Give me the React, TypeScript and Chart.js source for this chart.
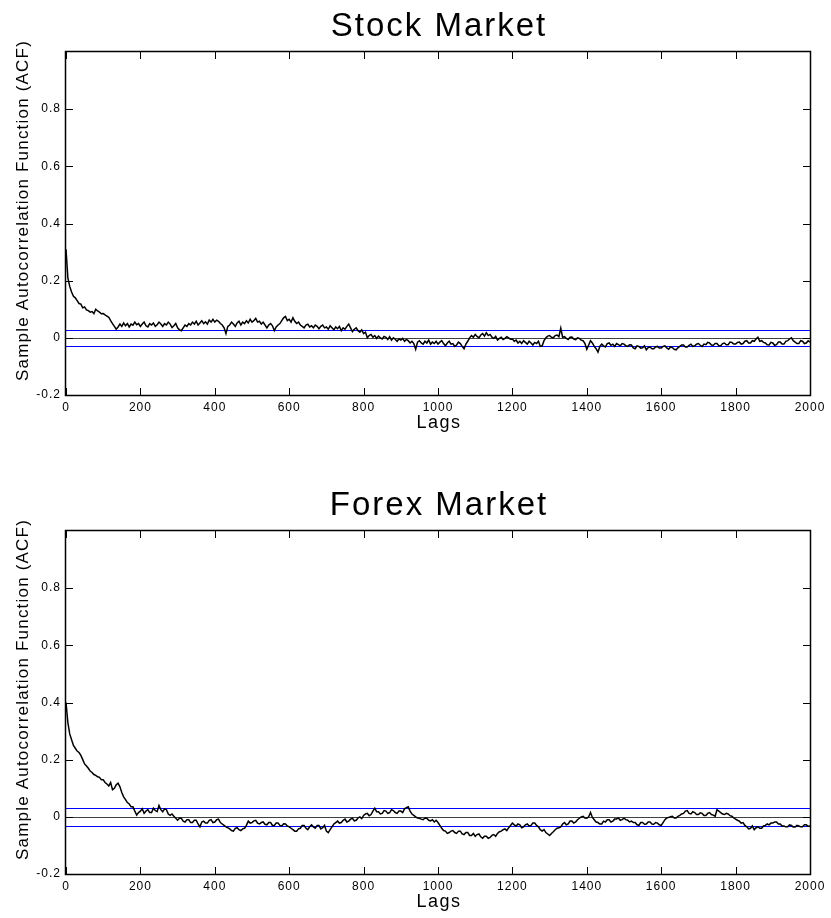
import React, { useEffect, useRef } from 'react';
import { Chart, registerables } from 'chart.js';

Chart.register(...registerables);

// Lags are sampled every LAG_STEP, from 0 to LAG_MAX
const LAG_STEP = 5;
const LAG_MAX = 2000;
const X_TICK_STEP = 200;
const Y_MIN = -0.2;
const Y_MAX = 1;
const Y_TICK_STEP = 0.2;

const STOCK_TITLE = 'Stock Market';
const FOREX_TITLE = 'Forex Market';
const Y_LABEL = 'Sample Autocorrelation Function (ACF)';
const X_LABEL = 'Lags';

const STOCK_BOUND = 0.027;
const FOREX_BOUND = 0.032;

const STOCK_ACF = [
  0.31, 0.21, 0.18, 0.16, 0.145, 0.14, 0.13, 0.12, 0.118, 0.105, 0.108, 0.098, 0.095, 0.09, 0.092, 0.085, 0.1, 0.094, 0.09, 0.084,
  0.085, 0.08, 0.076, 0.072, 0.06, 0.05, 0.04, 0.03, 0.038, 0.048, 0.04, 0.052, 0.042, 0.05, 0.038, 0.048, 0.044, 0.055, 0.046, 0.05,
  0.04, 0.048, 0.055, 0.042, 0.038, 0.05, 0.045, 0.052, 0.04, 0.046, 0.055, 0.048, 0.04, 0.05, 0.045, 0.055, 0.048, 0.036, 0.042, 0.05,
  0.035, 0.028, 0.025, 0.035, 0.045, 0.04, 0.05, 0.045, 0.055, 0.048, 0.058, 0.045, 0.052, 0.06, 0.05, 0.056, 0.048, 0.062, 0.055, 0.065,
  0.055, 0.062, 0.058, 0.05, 0.045, 0.035, 0.015, 0.04, 0.045, 0.055, 0.048, 0.04, 0.052, 0.058, 0.045, 0.055, 0.05, 0.06, 0.052, 0.065,
  0.055, 0.06, 0.068, 0.055, 0.058, 0.048, 0.055, 0.045, 0.035, 0.045, 0.05, 0.042, 0.025, 0.038, 0.045, 0.05, 0.06, 0.07, 0.075, 0.06,
  0.065, 0.055, 0.07, 0.058, 0.05, 0.055, 0.045, 0.04, 0.035, 0.045, 0.048, 0.038, 0.042, 0.035, 0.045, 0.04, 0.032, 0.04, 0.045, 0.035,
  0.038, 0.03, 0.042, 0.035, 0.028, 0.038, 0.032, 0.04, 0.025, 0.035, 0.03, 0.04, 0.048, 0.035, 0.022, 0.03, 0.035, 0.025, 0.02, 0.028,
  0.015, 0.02, 0.0, 0.008, 0.012, 0.002, 0.008, -0.002, 0.006, 0.0, -0.004, 0.005, 0.002, -0.006, 0.004, -0.008, 0.0, -0.005, -0.012, -0.004,
  -0.008, -0.002, -0.012, -0.006, -0.01, -0.018, -0.012, -0.02, -0.04, -0.015, -0.01, -0.018, -0.022, -0.012, -0.018, -0.008, -0.022, -0.015, -0.02, -0.012,
  -0.022, -0.015, -0.01, -0.02, -0.028, -0.018, -0.012, -0.022, -0.02, -0.03, -0.025, -0.015, -0.02, -0.03, -0.038, -0.022, -0.012, 0.0, 0.008, 0.002,
  0.012, 0.005, 0.0, 0.01, 0.015, 0.006, 0.018, 0.008, 0.012, 0.002, -0.002, 0.005, -0.008, -0.002, 0.002, -0.006, -0.002, 0.004, 0.0, -0.005,
  -0.004, -0.012, -0.008, -0.018, -0.012, -0.02, -0.01, -0.016, -0.022, -0.012, -0.018, -0.025, -0.016, -0.02, -0.012, -0.03, -0.028, -0.01, 0.0, 0.006,
  0.008, 0.002, 0.0, 0.008, 0.01, 0.004, 0.034, 0.002, 0.004, -0.002, -0.006, 0.002, 0.003, -0.004, -0.006, 0.0, -0.002, -0.008, -0.01, -0.02,
  -0.04, -0.025, -0.01, -0.018, -0.03, -0.038, -0.05, -0.03, -0.022, -0.028, -0.032, -0.02, -0.018, -0.026, -0.022, -0.03, -0.02, -0.024, -0.028, -0.02,
  -0.022, -0.028, -0.03, -0.024, -0.025, -0.035, -0.038, -0.028, -0.03, -0.036, -0.035, -0.028, -0.042, -0.034, -0.032, -0.038, -0.038, -0.032, -0.03, -0.036,
  -0.036, -0.03, -0.028, -0.035, -0.04, -0.032, -0.034, -0.04, -0.042, -0.035, -0.03, -0.025, -0.025, -0.032, -0.032, -0.026, -0.022, -0.03, -0.028, -0.022,
  -0.02, -0.026, -0.03, -0.022, -0.024, -0.016, -0.018, -0.025, -0.026, -0.02, -0.02, -0.028, -0.028, -0.02, -0.018, -0.024, -0.024, -0.015, -0.016, -0.022,
  -0.022, -0.016, -0.015, -0.022, -0.02, -0.012, -0.01, -0.018, -0.018, -0.01, -0.012, -0.004, 0.002, -0.012, -0.01, -0.016, -0.018, -0.024, -0.025, -0.016,
  -0.018, -0.026, -0.024, -0.015, -0.015, -0.022, -0.022, -0.012, -0.01, -0.004, 0.0, -0.01, -0.015, -0.02, -0.02, -0.01, -0.012, -0.02, -0.018, -0.01,
  -0.015,
];

const FOREX_ACF = [
  0.40, 0.33, 0.29, 0.27, 0.25, 0.24, 0.23, 0.225, 0.215, 0.2, 0.185, 0.178, 0.17, 0.16, 0.155, 0.148, 0.145, 0.14, 0.138, 0.13,
  0.13, 0.12, 0.115, 0.108, 0.12, 0.095, 0.1, 0.112, 0.118, 0.105, 0.085, 0.07, 0.06, 0.05, 0.045, 0.035, 0.035, 0.02, 0.006, 0.015,
  0.02, 0.028, 0.012, 0.02, 0.025, 0.015, 0.015, 0.03, 0.022, 0.018, 0.04, 0.025, 0.018, 0.028, 0.025, 0.01, 0.005, 0.01, 0.002, -0.005,
  -0.012, -0.005, -0.005, -0.015, -0.018, -0.01, -0.01, -0.02, -0.02, -0.012, -0.012, -0.025, -0.035, -0.018, -0.015, -0.022, -0.022, -0.012, -0.01, -0.02,
  -0.018, -0.01, -0.008, -0.02, -0.025, -0.03, -0.035, -0.038, -0.042, -0.048, -0.05, -0.04, -0.038, -0.045, -0.048, -0.042, -0.04, -0.03, -0.015, -0.022,
  -0.02, -0.014, -0.012, -0.022, -0.025, -0.02, -0.018, -0.026, -0.028, -0.02, -0.02, -0.03, -0.03, -0.022, -0.022, -0.03, -0.032, -0.024, -0.025, -0.032,
  -0.035, -0.04, -0.045, -0.05, -0.05, -0.042, -0.04, -0.03, -0.03, -0.04, -0.045, -0.035, -0.028, -0.035, -0.04, -0.03, -0.03, -0.042, -0.038, -0.03,
  -0.05, -0.055, -0.045, -0.035, -0.025, -0.02, -0.015, -0.022, -0.02, -0.012, -0.008, -0.018, -0.015, -0.008, -0.005, -0.014, -0.012, -0.004, 0.0, -0.006,
  0.005, 0.01, 0.012, 0.004, 0.008, 0.02, 0.03, 0.018, 0.018, 0.01, 0.012, 0.022, 0.02, 0.012, 0.015, 0.025, 0.022, 0.015, 0.012, 0.02,
  0.02, 0.015, 0.028, 0.032, 0.035, 0.02, 0.01, 0.005, 0.0, -0.004, -0.005, -0.008, -0.01, -0.004, -0.005, -0.012, -0.014, -0.01, -0.018, -0.012,
  -0.02, -0.03, -0.04, -0.048, -0.05, -0.058, -0.055, -0.05, -0.048, -0.055, -0.058, -0.05, -0.05, -0.06, -0.062, -0.055, -0.055, -0.065, -0.065, -0.058,
  -0.068, -0.062, -0.06, -0.07, -0.075, -0.068, -0.068, -0.075, -0.072, -0.065, -0.062, -0.068, -0.058, -0.052, -0.05, -0.045, -0.042, -0.048, -0.038, -0.03,
  -0.022, -0.028, -0.032, -0.025, -0.028, -0.038, -0.035, -0.028, -0.025, -0.032, -0.03, -0.022, -0.022, -0.03, -0.035, -0.045, -0.05, -0.045, -0.055, -0.06,
  -0.065, -0.058, -0.052, -0.045, -0.04, -0.038, -0.035, -0.025, -0.02, -0.028, -0.025, -0.015, -0.015, -0.022, -0.018, -0.01, -0.005, 0.0, 0.002, -0.004,
  -0.005, 0.0, 0.015, -0.002, -0.01, -0.018, -0.02, -0.025, -0.025, -0.015, -0.018, -0.01, -0.01, -0.018, -0.015, -0.008, -0.008, -0.004, -0.012, -0.01,
  -0.005, -0.01, -0.012, -0.018, -0.015, -0.02, -0.02, -0.028, -0.03, -0.02, -0.02, -0.026, -0.025, -0.018, -0.018, -0.025, -0.026, -0.02, -0.022, -0.028,
  -0.03, -0.02, -0.01, -0.004, -0.002, 0.0, 0.002, -0.004, -0.004, 0.002, 0.005, 0.01, 0.012, 0.02, 0.022, 0.012, 0.01, 0.018, 0.015, 0.008,
  0.008, 0.014, 0.012, 0.005, 0.005, 0.012, 0.015, 0.008, 0.006, 0.002, 0.025, 0.02, 0.015, 0.01, 0.008, 0.012, 0.01, 0.004, 0.002, -0.004,
  -0.008, -0.012, -0.015, -0.022, -0.02, -0.03, -0.035, -0.042, -0.04, -0.032, -0.045, -0.038, -0.035, -0.04, -0.04, -0.032, -0.03, -0.025, -0.028, -0.022,
  -0.022, -0.018, -0.018, -0.025, -0.025, -0.032, -0.032, -0.035, -0.035, -0.028, -0.03, -0.036, -0.036, -0.03, -0.032, -0.035, -0.035, -0.028, -0.028, -0.033,
  -0.032,
];

const FONT = '"Liberation Sans", Arial, Helvetica, sans-serif';

type Props = {
  title: string;
  values: number[];
  bound: number;
  areaTop: number;
  xAxisHeight: number;
};

function toPoints(values: number[]) {
  return values.map((v, i) => ({ x: i * LAG_STEP, y: v }));
}

function ACFChart({ title, values, bound, areaTop, xAxisHeight }: Props) {
  const ref = useRef<HTMLCanvasElement | null>(null);

  useEffect(() => {
    if (!ref.current) return;
    const decor = {
      id: 'matlabDecor',
      beforeDraw(chart: any) {
        chart.ctx.letterSpacing = '1px';
      },
      beforeDatasetsDraw(chart: any) {
        const { ctx, chartArea, scales } = chart;
        const { left, right } = chartArea;
        const y = scales.y;
        const hline = (v: number, color: string) => {
          const py = Math.round(y.getPixelForValue(v)) + 0.5;
          ctx.strokeStyle = color;
          ctx.beginPath();
          ctx.moveTo(left, py);
          ctx.lineTo(right, py);
          ctx.stroke();
        };
        ctx.save();
        ctx.lineWidth = 1;
        hline(0, '#404040');
        hline(bound, '#0000ff');
        hline(-bound, '#0000ff');
        ctx.restore();
      },
      afterDraw(chart: any) {
        const { ctx, chartArea, scales } = chart;
        const { left, right, top, bottom } = chartArea;
        const x = scales.x;
        const y = scales.y;
        ctx.save();
        ctx.strokeStyle = '#000';
        ctx.lineWidth = 1;
        ctx.beginPath();
        x.ticks.forEach((t: any) => {
          const px = Math.round(x.getPixelForValue(t.value)) + 0.5;
          ctx.moveTo(px, bottom);
          ctx.lineTo(px, bottom - 7);
          ctx.moveTo(px, top);
          ctx.lineTo(px, top + 7);
        });
        y.ticks.forEach((t: any) => {
          const py = Math.round(y.getPixelForValue(t.value)) + 0.5;
          ctx.moveTo(left, py);
          ctx.lineTo(left + 7, py);
          ctx.moveTo(right, py);
          ctx.lineTo(right - 7, py);
        });
        ctx.stroke();
        ctx.lineWidth = 1.5;
        ctx.strokeRect(left - 0.5, top - 0.5, right - left + 1, bottom - top + 1);

        ctx.fillStyle = '#000';
        ctx.textAlign = 'center';
        ctx.textBaseline = 'alphabetic';
        ctx.font = `33px ${FONT}`;
        ctx.letterSpacing = '2px';
        ctx.fillText(title, (left + right) / 2 + 1, top - 16);

        ctx.font = `18px ${FONT}`;
        ctx.letterSpacing = '1.5px';
        ctx.fillText(X_LABEL, (left + right) / 2 + 1, bottom + 33);

        ctx.translate(23, (top + bottom) / 2 - 13);
        ctx.rotate(-Math.PI / 2);
        ctx.font = `17px ${FONT}`;
        ctx.letterSpacing = '1.2px';
        ctx.textBaseline = 'middle';
        ctx.fillText(Y_LABEL, 0, 0);
        ctx.restore();
      },
    };

    const chart = new Chart(ref.current, {
      type: 'line',
      data: {
        datasets: [
          {
            data: toPoints(values),
            borderColor: '#000',
            borderWidth: 1.5,
            pointRadius: 0,
            tension: 0,
          },
        ],
      },
      options: {
        responsive: false,
        animation: false,
        devicePixelRatio: 1,
        layout: { padding: { left: 0, right: 21, top: areaTop, bottom: 0 } },
        plugins: {
          legend: { display: false },
          tooltip: { enabled: false },
          title: { display: false },
        },
        scales: {
          x: {
            type: 'linear',
            min: 0,
            max: LAG_MAX,
            grid: { display: false, drawTicks: false },
            border: { display: false },
            ticks: {
              stepSize: X_TICK_STEP,
              autoSkip: false,
              maxRotation: 0,
              padding: 5,
              color: '#000',
              font: { family: FONT, size: 12 },
              callback: (v: any) => String(v),
            },
            afterFit: (s: any) => {
              s.height = xAxisHeight;
            },
          },
          y: {
            type: 'linear',
            min: Y_MIN,
            max: Y_MAX,
            grid: { display: false, drawTicks: false },
            border: { display: false },
            ticks: {
              stepSize: Y_TICK_STEP,
              padding: 5,
              color: '#000',
              font: { family: FONT, size: 12 },
              callback: (v: any) => String(Number(Number(v).toFixed(1))),
            },
            afterBuildTicks: (s: any) => {
              s.ticks = s.ticks.filter((t: any) => t.value < Y_MAX - 1e-6);
            },
            afterFit: (s: any) => {
              s.width = 66;
            },
          },
        },
      },
      plugins: [decor],
    } as any);
    return () => chart.destroy();
  }, [title, values, bound, areaTop, xAxisHeight]);

  return <canvas ref={ref} width={831} height={459} style={{ display: 'block' }} />;
}

export default function App() {
  return (
    <div style={{ position: 'absolute', left: 0, top: 0, width: 831, height: 918, background: '#fff' }}>
      <ACFChart title={STOCK_TITLE} values={STOCK_ACF} bound={STOCK_BOUND} areaTop={52} xAxisHeight={64} />
      <ACFChart title={FOREX_TITLE} values={FOREX_ACF} bound={FOREX_BOUND} areaTop={72} xAxisHeight={44} />
    </div>
  );
}
